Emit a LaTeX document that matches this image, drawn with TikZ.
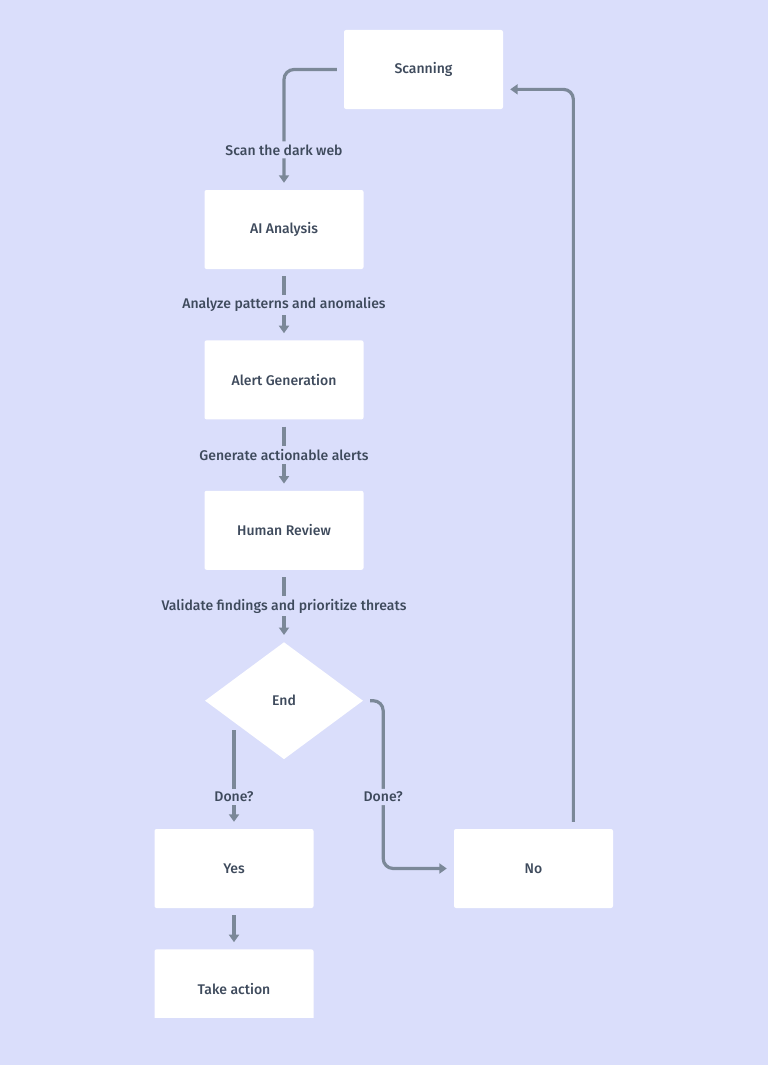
\documentclass[tikz,border=0pt]{standalone}
\usepackage{fontspec}
\setmainfont{Fira Sans}[UprightFont={* Medium}]
\usetikzlibrary{shapes.geometric, arrows.meta, positioning, calc}

\definecolor{bgblue}{HTML}{DADEFB}
\definecolor{linegray}{HTML}{7B8898}
\definecolor{textgray}{HTML}{3E4A5C}

\begin{document}
\begin{tikzpicture}[
    x=1pt, y=-1pt,
    box/.style={rectangle, rounded corners=2pt, fill=white, text=textgray, inner sep=0pt,
                minimum width=159pt, minimum height=79pt, font=\fontsize{14}{16}\selectfont},
    decision/.style={diamond, fill=white, text=textgray, inner sep=0pt,
                minimum width=158pt, minimum height=117pt, font=\fontsize{14}{16}\selectfont},
    arrow/.style={-{Triangle[width=10pt,length=7.5pt]}, line width=3.2pt, draw=linegray,
                shorten <=7pt, shorten >=7pt},
    lbl/.style={fill=bgblue, text=textgray, inner sep=3pt, font=\fontsize{14}{16}\selectfont},
    node distance=71pt
  ]
    \fill[bgblue] (0,0) rectangle (768,1065);

    \node[box] (scan) at (423.5,69.5) {Scanning};
    \node[box] (ai) at (284,229.5) {AI Analysis};
    \node[box, below=of ai]     (alert)  {Alert Generation};
    \node[box, below=of alert]  (review) {Human Review};
    \node[decision, below=72pt of review] (endd) {End};
    \node[box] (yes) at (234,868.5) {Yes};
    \node[box] (no)  at (533.5,868.5) {No};
    \begin{scope}
      \clip (0,0) rectangle (768,1017);
      \node[box, below=41pt of yes] (take) {Take action};
    \end{scope}

    \draw[arrow, rounded corners=10pt] (scan.west) -| node[lbl, pos=0.834] {Scan the dark web} (ai.north);
    \draw[arrow] (ai) -- node[lbl] {Analyze patterns and anomalies} (alert);
    \draw[arrow] (alert) -- node[lbl] {Generate actionable alerts} (review);
    \draw[arrow] (review) -- node[lbl] {Validate findings and prioritize threats} (endd);

    \draw[arrow, shorten <=0pt] (yes.north |- endd.south west) -- node[lbl, pos=0.675] {Done?} (yes);
    \draw[arrow, rounded corners=10pt] (endd.east) -- ++(20,0) |- node[lbl, pos=0.287] {Done?} (no.west);
    \draw[arrow] (yes) -- (take);
    \draw[arrow, rounded corners=10pt] ($(no.north)!0.5!(no.north east)$) |- ($(scan.east)!0.5!(scan.south east)$);
  \end{tikzpicture}
\end{document}
